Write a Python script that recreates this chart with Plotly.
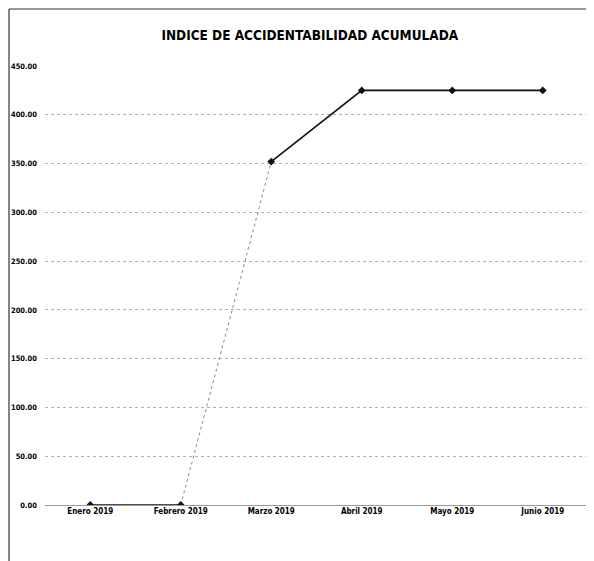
import plotly.graph_objects as go

MESES = ["Enero 2019", "Febrero 2019", "Marzo 2019", "Abril 2019", "Mayo 2019", "Junio 2019"]
INDICE = [0.0, 0.0, 352.0, 425.0, 425.0, 425.0]
Y_TICKS = [0, 50, 100, 150, 200, 250, 300, 350, 400, 450]

FONT = "DejaVu Sans Condensed, Liberation Sans Narrow, Arial Narrow, sans-serif"
INK = "#111111"

fig = go.Figure()
# the scan shows the Feb -> Mar rise as a faint dotted stroke
segments = [(0, 2, "solid", INK, 1.6), (1, 3, "dot", "#8a8a8a", 1), (2, 6, "solid", INK, 1.6)]
for a, b, dash, color, width in segments:
    fig.add_trace(
        go.Scatter(
            x=MESES[a:b],
            y=INDICE[a:b],
            mode="lines",
            line=dict(color=color, width=width, dash=dash),
            showlegend=False,
            hoverinfo="skip",
        )
    )
fig.add_trace(
    go.Scatter(
        x=MESES,
        y=INDICE,
        mode="markers",
        marker=dict(symbol="diamond", size=6, color=INK),
        showlegend=False,
    )
)

# only the left and top edges of the chart frame survive in the scan
frame = dict(type="line", xref="paper", yref="paper", line=dict(color="#333333", width=1.2))
fig.add_shape(x0=-0.0663, x1=-0.0663, y0=-0.13, y1=1.1298, **frame)
fig.add_shape(x0=-0.0663, x1=1.02, y0=1.1298, y1=1.1298, **frame)

fig.update_layout(
    width=586,
    height=553,
    paper_bgcolor="white",
    plot_bgcolor="white",
    margin=dict(l=37, r=6, t=58, b=56),
    title=dict(
        text="<b>INDICE DE ACCIDENTABILIDAD ACUMULADA</b>",
        x=0.515, xanchor="center", y=0.95, yanchor="middle",
        font=dict(family=FONT, size=13.5, color="#000000"),
    ),
    font=dict(family=FONT, color=INK),
    xaxis=dict(
        range=[-0.5, 5.5],
        automargin=False,
        showgrid=False,
        showline=False,
        ticks="",
        tickfont=dict(size=8, color="#000000", weight="bold"),
    ),
    yaxis=dict(
        range=[0, 450],
        automargin=False,
        tickvals=Y_TICKS,
        tickformat=".2f",
        showgrid=True,
        gridcolor="#b0b0b0",
        griddash="dot",
        gridwidth=1,
        zeroline=True,
        zerolinecolor="#9a9a9a",
        zerolinewidth=1,
        showline=False,
        ticks="",
        ticklabelstandoff=7,
        tickfont=dict(size=7.5, color="#000000", weight="bold"),
    ),
)

fig.write_html("out.html")
